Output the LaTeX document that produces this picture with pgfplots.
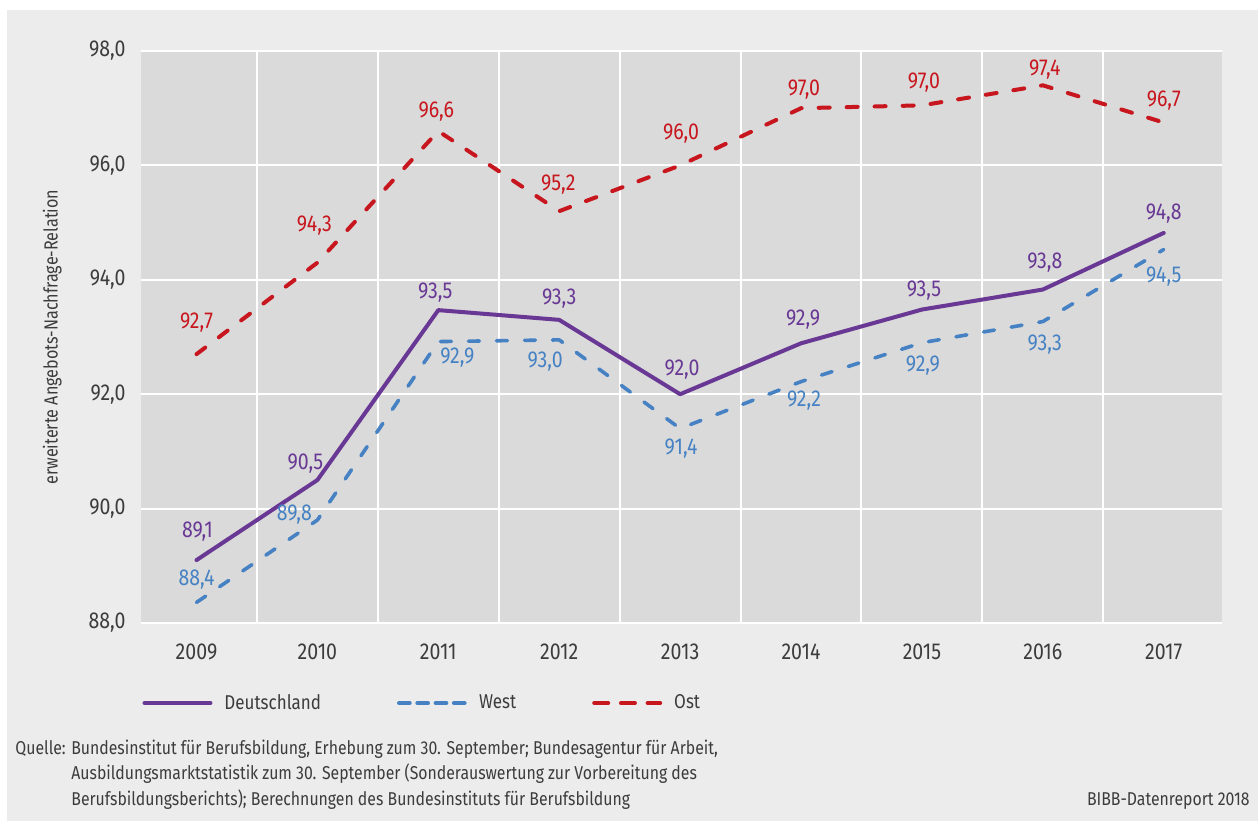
\documentclass[border=0pt]{standalone}
\usepackage{pgfplots}
\pgfplotsset{compat=1.18}
\usepackage{pgfplotstable}
\usepackage{fontspec}
\setmainfont{Fira Sans}[FakeStretch=0.85]
\definecolor{cD}{RGB}{104,56,148}
\definecolor{cW}{RGB}{70,130,195}
\definecolor{cO}{RGB}{200,22,30}
\definecolor{txt}{RGB}{60,60,60}
\definecolor{bgout}{RGB}{236,236,236}
\definecolor{bgplot}{RGB}{218,218,218}

\pgfplotstableread{
x y dx dy lab
0 89.1 1 -28 89,1
1 90.5 -12 -16 90,5
2 93.47 -3 -18 93,5
3 93.3 0 -21 93,3
4 92.0 2 -25 92,0
5 92.89 2 -24 92,9
6 93.48 2 -19 93,5
7 93.83 2 -27 93,8
8 94.82 0 -19 94,8
}\tD

\pgfplotstableread{
x y dx dy lab
0 88.36 0 -23 88,4
1 89.8 -23 -5 89,8
2 92.92 19 16 92,9
3 92.95 -14 22 93,0
4 91.4 1 20 91,4
5 92.22 3 19 92,2
6 92.9 1 23 92,9
7 93.27 2 23 93,3
8 94.53 0 27 94,5
}\tW

\pgfplotstableread{
x y dx dy lab
0 92.7 0 -32 92,7
1 94.3 -3 -37 94,3
2 96.6 -2 -19 96,6
3 95.2 -1 -27 95,2
4 96.0 1 -32 96,0
5 97.0 3 -19 97,0
6 97.05 2 -23 97,0
7 97.4 2 -16 97,4
8 96.75 0 -22 96,7
}\tO

\begin{document}
\begin{tikzpicture}
\fill[white] (0pt,0pt) rectangle (629pt,-410.5pt);
\fill[bgout] (3.5pt,-5pt) rectangle (629pt,-410.5pt);
\begin{axis}[
  at={(70.5pt,-311.5pt)}, anchor=south west,
  scale only axis, width=540.5pt, height=286pt,
  xmin=-0.459, xmax=8.482, ymin=88, ymax=98,
  axis background/.style={fill=bgplot},
  axis line style={draw=none},
  major tick length=0pt, minor tick length=0pt,
  xtick={0,1,2,3,4,5,6,7,8},
  xticklabels={2009,2010,2011,2012,2013,2014,2015,2016,2017},
  minor xtick={0.5,1.5,2.5,3.5,4.5,5.5,6.5,7.5},
  xminorgrids=true, xmajorgrids=false, ymajorgrids=true,
  major grid style={white, line width=1pt},
  minor grid style={white, line width=1pt},
  ytick={88,90,92,94,96,98},
  yticklabel={\pgfmathprintnumber[fixed,fixed zerofill,precision=1,use comma]{\tick}},
  /pgf/number format/assume math mode=true,
  tick label style={font=\fontsize{11.5}{13}\selectfont, text=txt},
  yticklabel style={anchor=east, inner sep=0pt, xshift=-7.5pt},
  xticklabel style={anchor=north, inner sep=0pt, yshift=-10pt},
  ylabel={erweiterte Angebots-Nachfrage-Relation},
  ylabel style={at={(axis description cs:-0.082,0.5)}, anchor=center, font=\fontsize{9.5}{11}\selectfont, text=txt},
  legend columns=3,
  legend style={at={(axis description cs:0.001,-0.1399)}, anchor=west, draw=none, fill=none, inner sep=0pt,
    nodes={inner sep=0pt}, font=\fontsize{10}{12}\selectfont, text=txt,
    /tikz/every odd column/.append style={column sep=6pt},
    /tikz/every even column/.append style={column sep=38pt}},
  clip=false,
  nodes near coords,
  point meta=explicit symbolic,
  visualization depends on={\thisrow{dx} \as \ldx},
  visualization depends on={\thisrow{dy} \as \ldy},
  every node near coord/.append style={anchor=center, inner sep=0pt,
    xshift={0.5pt*(\ldx)}, yshift={-0.5pt*(\ldy)}, font=\fontsize{11.5}{13}\selectfont},
]
\addplot[cD, line width=2pt, line cap=round, line join=round,
  every node near coord/.append style={text=cD},
  legend image code/.code={\draw[cD, line width=2pt] (0pt,0pt) -- (33pt,0pt);}]
  table[x=x, y=y, meta=lab]{\tD};
\addlegendentry{Deutschland}
\addplot[cW, line width=1.8pt, line cap=round, line join=round, dash pattern=on 5.5pt off 8.5pt,
  every node near coord/.append style={text=cW},
  legend image code/.code={\draw[cW, line width=2pt, dash pattern=on 5.35pt off 3.8pt] (0pt,0pt) -- (33pt,0pt);}]
  table[x=x, y=y, meta=lab]{\tW};
\addlegendentry{West}
\addplot[cO, line width=2pt, line cap=round, line join=round, dash pattern=on 5.5pt off 8.5pt,
  every node near coord/.append style={text=cO},
  legend image code/.code={\draw[cO, line width=2pt, dash pattern=on 7pt off 6.35pt] (0pt,0pt) -- (33pt,0pt);}]
  table[x=x, y=y, meta=lab]{\tO};
\addlegendentry{Ost}
\end{axis}
\begin{scope}[every node/.style={font=\fontsize{9.3}{11}\selectfont, text=txt, inner sep=0pt}]
\node[anchor=base west] at (7.5pt,-377pt) {Quelle: Bundesinstitut für Berufsbildung, Erhebung zum 30. September; Bundesagentur für Arbeit,};
\node[anchor=base west] at (35.5pt,-389.5pt) {Ausbildungsmarktstatistik zum 30. September (Sonderauswertung zur Vorbereitung des};
\node[anchor=base west] at (35.5pt,-402.5pt) {Berufsbildungsberichts); Berechnungen des Bundesinstituts für Berufsbildung};
\node[anchor=base east] at (625pt,-402.5pt) {BIBB-Datenreport 2018};
\end{scope}
\end{tikzpicture}
\end{document}
